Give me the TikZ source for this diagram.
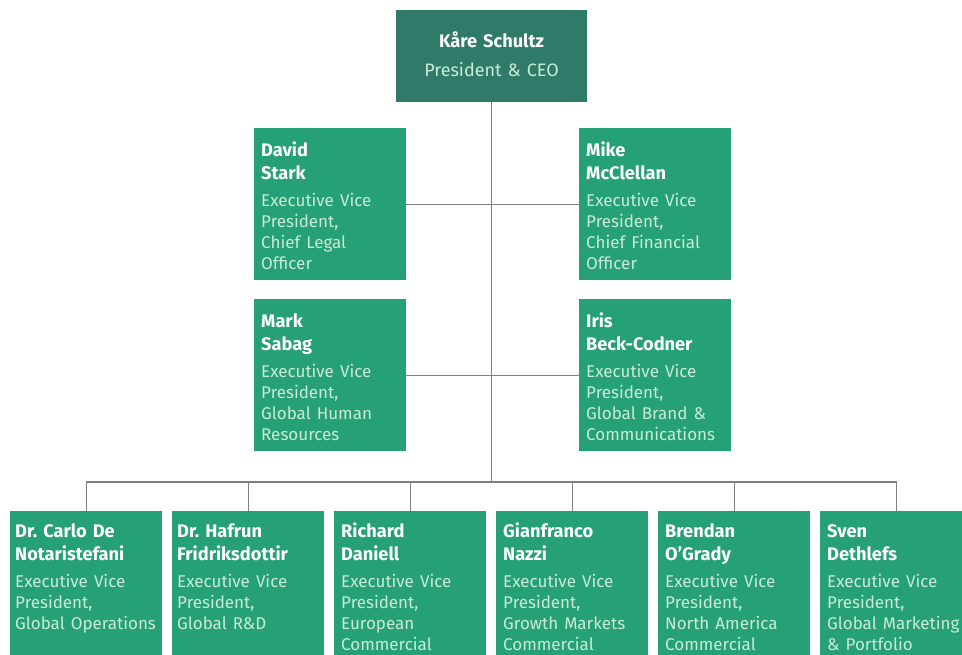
\documentclass[tikz,border=0pt]{standalone}
\usepackage{fontspec}
\setmainfont{Fira Sans}
\frenchspacing
\definecolor{ceogreen}{RGB}{47,122,104}
\definecolor{boxgreen}{RGB}{38,160,118}
\definecolor{mint}{RGB}{200,236,216}
\definecolor{linegray}{RGB}{128,128,128}
\tikzset{
  orgbox/.style={fill=boxgreen, draw=none, anchor=north west, inner sep=0pt, minimum width=152pt, minimum height=152pt},
  orgtxt/.style={anchor=base west, inner sep=0pt, text width=150pt, align=left, text=white,
    font=\fontsize{18.2}{23}\selectfont},
  conn/.style={draw=linegray, line width=1.3pt}
}
\newcommand{\orgentry}[2]{{\bfseries #1\par}\vspace{7pt}{\fontsize{17}{20.8}\selectfont\color{mint}#2\par}}
\begin{document}
\begin{tikzpicture}[x=1pt,y=-1pt]
\useasboundingbox (0,0) rectangle (962,654);
\clip (0,0) rectangle (962,654);
% CEO
\node[fill=ceogreen, anchor=north west, inner sep=0pt, minimum width=191pt, minimum height=92pt] (ceo) at (396,10) {};
\node[anchor=base, inner sep=0pt, text width=185pt, align=center, text=white, font=\fontsize{18}{29}\selectfont] (ceot) at (491.5,47) {\textbf{\fontsize{18.2}{29}\selectfont Kåre Schultz}\\\textcolor{mint}{President \& CEO}};
% middle boxes
\node[orgbox] (ds) at (254,128) {};
\node[orgbox] (mm) at (579,128) {};
\node[orgbox] (ms) at (254,299) {};
\node[orgbox] (ib) at (579,299) {};
\node[orgtxt] (dst) at (261,156) {\orgentry{David\\Stark}{Executive Vice\\President,\\Chief Legal\\Officer}};
\node[orgtxt] (mmt) at (586,156) {\orgentry{Mike\\McClellan}{Executive Vice\\President,\\Chief Financial\\Officer}};
\node[orgtxt] (mst) at (261,327) {\orgentry{Mark\\Sabag}{Executive Vice\\President,\\Global Human\\Resources}};
\node[orgtxt] (ibt) at (586,327) {\orgentry{Iris\\Beck-Codner}{Executive Vice\\President,\\Global Brand \&\\Communications}};
% bottom boxes
\node[orgbox] (b1) at (10,511) {};
\node[orgbox] (b2) at (172,511) {};
\node[orgbox] (b3) at (334,511) {};
\node[orgbox] (b4) at (496,511) {};
\node[orgbox] (b5) at (658,511) {};
\node[orgbox] (b6) at (820,511) {};
\node[orgtxt] (b1t) at (15,537) {\orgentry{Dr. Carlo De\\Notaristefani}{Executive Vice\\President,\\Global Operations}};
\node[orgtxt] (b2t) at (177,537) {\orgentry{Dr. Hafrun\\Fridriksdottir}{Executive Vice\\President,\\Global R\&D}};
\node[orgtxt] (b3t) at (341,537) {\orgentry{Richard\\Daniell}{Executive Vice\\President,\\European\\Commercial}};
\node[orgtxt] (b4t) at (503,537) {\orgentry{Gianfranco\\Nazzi}{Executive Vice\\President,\\Growth Markets\\Commercial}};
\node[orgtxt] (b5t) at (665,537) {\orgentry{Brendan\\O’Grady}{Executive Vice\\President,\\North America\\Commercial}};
\node[orgtxt] (b6t) at (827,537) {\orgentry{Sven\\Dethlefs}{Executive Vice\\President,\\Global Marketing\\\& Portfolio}};
% connectors
\coordinate (bar) at (490,482);
\draw[conn] (ceo.south) -- (ceo.south |- bar);
\draw[conn] (ds.east) -- (mm.west);
\draw[conn] (ms.east) -- (ib.west);
\draw[conn] (b1.north) -- (b1.north |- bar) -| (b6.north);
\foreach \b in {b2,b3,b4,b5} \draw[conn] (\b.north) -- (\b.north |- bar);
\end{tikzpicture}
\end{document}
